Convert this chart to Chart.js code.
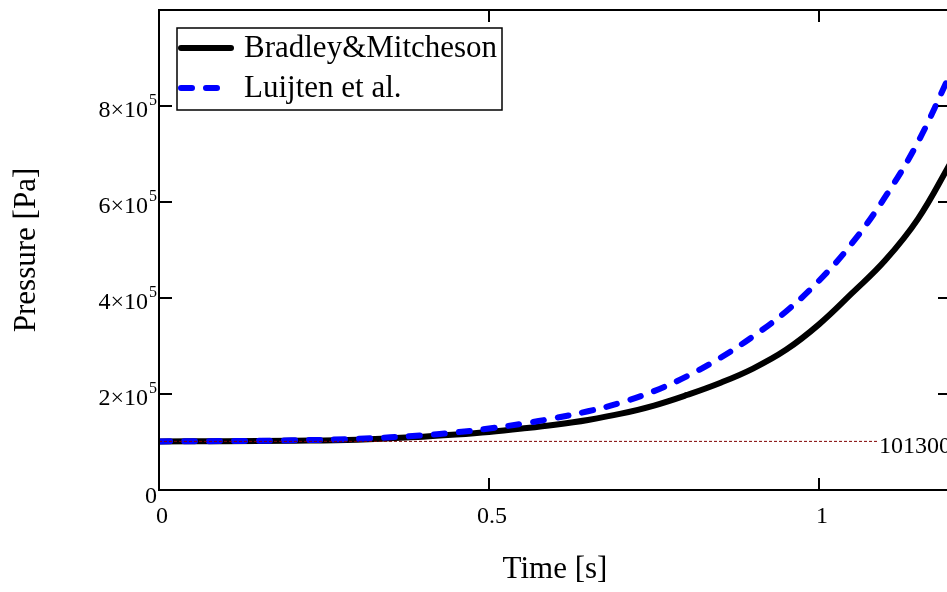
<!DOCTYPE html>
<html>
<head>
<meta charset="utf-8">
<script src="https://cdn.jsdelivr.net/npm/chart.js@4"></script>
<style>
  html, body { margin: 0; padding: 0; background: #fff; overflow: hidden; }
  canvas { display: block; }
</style>
</head>
<body>
<canvas id="chart" width="955" height="592"></canvas>
<script>
// time [s]
const times = [0, 0.1, 0.2, 0.3, 0.4, 0.45, 0.5, 0.55, 0.6, 0.65, 0.7, 0.75, 0.8, 0.85, 0.9, 0.95, 1.0, 1.05, 1.1, 1.15, 1.2];
// pressure [Pa]
const bradley = [101300, 101800, 102800, 104800, 111000, 115500, 121000, 128000, 136000, 146000, 159000, 176000, 198000, 223000, 253000, 292000, 345000, 410000, 478000, 565000, 683000];
const luijten = [101300, 102000, 103500, 106500, 114000, 120000, 128000, 138000, 150000, 164000, 182000, 206000, 237000, 275000, 320000, 372000, 436000, 514000, 610000, 725000, 870000];
const atmosphere = 101300;
const xTicks = [0, 0.5, 1];
const yTicks = [0, 2e5, 4e5, 6e5, 8e5];

const FONT = "'Liberation Serif', 'Times New Roman', serif";

function pairs(xs, ys) {
  return xs.map((x, i) => ({ x: x, y: ys[i] }));
}

// box, inward ticks, y labels with exponents, reference label
const frame = {
  id: 'frame',
  afterDatasetsDraw(chart) {
    const ctx = chart.ctx;
    const a = chart.chartArea;
    const xs = chart.scales.x, ys = chart.scales.y;
    ctx.save();
    ctx.strokeStyle = '#000';
    ctx.lineWidth = 2;
    ctx.strokeRect(a.left, a.top, a.right - a.left, a.bottom - a.top);

    ctx.beginPath();
    xTicks.forEach(v => {
      if (v === 0) return;
      const px = xs.getPixelForValue(v);
      ctx.moveTo(px, a.bottom); ctx.lineTo(px, a.bottom - 12);
      ctx.moveTo(px, a.top); ctx.lineTo(px, a.top + 12);
    });
    yTicks.forEach(v => {
      if (v === 0) return;
      const py = ys.getPixelForValue(v);
      ctx.moveTo(a.left, py); ctx.lineTo(a.left + 13, py);
      ctx.moveTo(a.right, py); ctx.lineTo(a.right - 13, py);
    });
    ctx.stroke();

    // y labels
    ctx.fillStyle = '#000';
    ctx.textAlign = 'right';
    ctx.textBaseline = 'alphabetic';
    yTicks.forEach(v => {
      const py = ys.getPixelForValue(v);
      if (v === 0) {
        ctx.font = '24px ' + FONT;
        ctx.fillText('0', a.left - 2, py + 13);
        return;
      }
      ctx.font = '16px ' + FONT;
      const supW = ctx.measureText('5').width;
      ctx.fillText('5', a.left - 2, py - 1);
      ctx.font = '24px ' + FONT;
      ctx.fillText((v / 1e5) + '\u00d710', a.left - 3 - supW, py + 11);
    });

    // reference label
    const ry = ys.getPixelForValue(atmosphere);
    ctx.font = '24px ' + FONT;
    const lbl = String(atmosphere);
    const w = ctx.measureText(lbl).width;
    ctx.fillStyle = '#fff';
    ctx.fillRect(a.right - w - 1, ry - 3, w + 1, 18);
    ctx.fillStyle = '#000';
    ctx.textBaseline = 'middle';
    ctx.fillText(lbl, a.right, ry + 5);
    ctx.restore();
  }
};

const boxLegend = {
  id: 'boxLegend',
  afterDraw(chart) {
    const ctx = chart.ctx;
    const a = chart.chartArea;
    const items = chart.data.datasets.filter(d => d.inLegend);
    const x0 = a.left + 18, y0 = a.top + 18;
    ctx.save();
    ctx.fillStyle = '#fff';
    ctx.fillRect(x0, y0, 325, 82);
    ctx.strokeStyle = '#000';
    ctx.lineWidth = 1.5;
    ctx.strokeRect(x0, y0, 325, 82);
    items.forEach((d, i) => {
      const y = y0 + 20 + i * 40;
      ctx.beginPath();
      ctx.strokeStyle = d.borderColor;
      ctx.lineWidth = d.borderWidth;
      ctx.lineCap = 'round';
      ctx.setLineDash(d.borderDash || []);
      ctx.moveTo(x0 + 4, y);
      ctx.lineTo(x0 + 54, y);
      ctx.stroke();
      ctx.setLineDash([]);
      ctx.fillStyle = '#000';
      ctx.font = '31px ' + FONT;
      ctx.textAlign = 'left';
      ctx.textBaseline = 'middle';
      ctx.fillText(d.label, x0 + 67, y + 1);
    });
    ctx.restore();
  }
};

new Chart(document.getElementById('chart').getContext('2d'), {
  type: 'line',
  data: {
    datasets: [
      {
        label: 'Bradley&Mitcheson',
        data: pairs(times, bradley),
        borderColor: '#000000',
        borderWidth: 6,
        pointRadius: 0,
        tension: 0.4,
        order: 2,
        inLegend: true
      },
      {
        label: 'Luijten et al.',
        data: pairs(times, luijten),
        borderColor: '#0000ff',
        borderWidth: 6,
        borderDash: [11, 14],
        borderCapStyle: 'round',
        pointRadius: 0,
        tension: 0.4,
        order: 1,
        inLegend: true
      },
      {
        label: 'atm',
        data: pairs([0, 1.2], [atmosphere, atmosphere]),
        borderColor: '#800000',
        borderWidth: 1,
        borderDash: [3, 2],
        pointRadius: 0,
        order: 0
      }
    ]
  },
  options: {
    responsive: false,
    animation: false,
    layout: { padding: { top: 10, right: 4, left: 0, bottom: 0 } },
    plugins: { legend: { display: false }, tooltip: { enabled: false } },
    scales: {
      x: {
        type: 'linear',
        min: 0,
        max: 1.2,
        grid: { display: false, drawTicks: false },
        border: { display: false },
        ticks: {
          stepSize: 0.5,
          includeBounds: false,
          autoSkip: false,
          maxRotation: 0,
          padding: 12,
          labelOffset: 3,
          color: '#000',
          font: { family: FONT, size: 24 },
          callback: v => String(v)
        },
        title: {
          display: true,
          text: 'Time [s]',
          color: '#000',
          font: { family: FONT, size: 31 },
          padding: { top: 0, bottom: 4 }
        },
        afterFit: s => { s.height = 102; }
      },
      y: {
        type: 'linear',
        min: 0,
        max: 1e6,
        grid: { display: false, drawTicks: false },
        border: { display: false },
        ticks: { display: false, stepSize: 2e5 },
        title: {
          display: true,
          text: 'Pressure [Pa]',
          color: '#000',
          font: { family: FONT, size: 31 },
          padding: { top: 8, bottom: 0 }
        },
        afterFit: s => { s.width = 159; }
      }
    }
  },
  plugins: [frame, boxLegend]
});
</script>
</body>
</html>
